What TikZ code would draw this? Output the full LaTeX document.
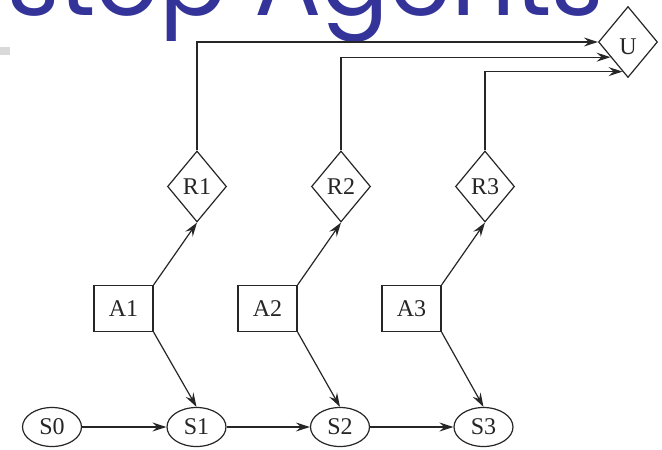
\documentclass[tikz,border=0pt]{standalone}
\usepackage{fontspec}
\setmainfont{Liberation Serif}
\newfontfamily\titlefont{Poppins}
\usetikzlibrary{arrows.meta,shapes.geometric,calc}
\definecolor{titleblue}{RGB}{51,51,153}
\definecolor{bargray}{RGB}{217,217,217}
\begin{document}
\begin{tikzpicture}[x=1pt,y=-1pt,
  ln/.style={draw=black!85,line width=1.2pt},
  arr/.style={ln,-{Stealth[length=14pt,width=9pt,inset=5pt]}},
  lbl/.style={text=black!85,font=\fontsize{24}{24}\selectfont},
  dia/.style={diamond,ln,minimum width=59pt,minimum height=71pt,inner sep=0pt,lbl},
  actbox/.style={rectangle,ln,minimum width=59pt,minimum height=46pt,inner sep=0pt,lbl},
  stnode/.style={ellipse,ln,minimum width=59pt,minimum height=39pt,inner sep=0pt,lbl}
]
\useasboundingbox (0,0) rectangle (662,450);
\clip (0,0) rectangle (662,450);
\fill[white] (0,0) rectangle (662,450);
% title (cut off at top)
\node[anchor=base west,inner sep=0pt,text=titleblue,font=\titlefont\fontsize{100}{100}\selectfont] (title) at (7,15) {stop Agents};
\fill[bargray] (0,47) rectangle (10,55);
% utility
\node[dia] (U) at (628,42) {};
\node[lbl] (Ulab) at (628,47) {U};
% rewards
\node[dia] (R1) at (197,186.5) {R1};
\node[dia] (R2) at (341,186.5) {R2};
\node[dia] (R3) at (485,186.5) {R3};
% actions
\node[actbox] (A1) at (123.5,308.5) {A1};
\node[actbox] (A2) at (267.5,308.5) {A2};
\node[actbox] (A3) at (411.5,308.5) {A3};
% states
\node[stnode] (S0) at (52,427) {S0};
\node[stnode] (S1) at (196.5,427) {S1};
\node[stnode] (S2) at (340,427) {S2};
\node[stnode] (S3) at (483.5,427) {S3};
% entry points on U
\coordinate (U2) at ($(U.west)!0.42!(U.south)$);
\coordinate (U3) at ($(U.west)!0.82!(U.south)$);
% connectors
\draw[arr] (S0) -- (S1);
\draw[arr] (S1) -- (S2);
\draw[arr] (S2) -- (S3);
\draw[arr] (A1.north east) -- (R1.south);
\draw[arr] (A2.north east) -- (R2.south);
\draw[arr] (A3.north east) -- (R3.south);
\draw[arr] (A1.south east) -- (S1.north);
\draw[arr] (A2.south east) -- (S2.north);
\draw[arr] (A3.south east) -- (S3.north);
\draw[arr] (R1.north) |- (U.west);
\draw[arr] (R2.north) |- (U2);
\draw[arr] (R3.north) |- (U3);
\end{tikzpicture}
\end{document}
